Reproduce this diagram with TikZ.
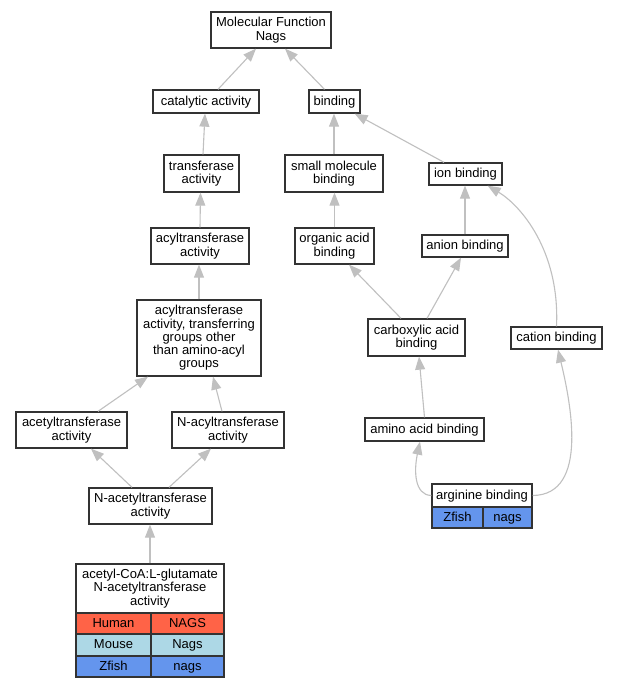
\documentclass[tikz,border=0pt]{standalone}
\usepackage{fontspec}
\setmainfont{Liberation Sans}
\usetikzlibrary{arrows.meta}
\definecolor{edgec}{HTML}{C0C0C0}
\definecolor{boxc}{HTML}{333333}
\definecolor{human}{HTML}{FF6347}
\definecolor{mouse}{HTML}{ADD8E6}
\definecolor{zfish}{HTML}{6495ED}
\newcommand\gvfont{\fontsize{13}{13.3}\selectfont}
\tikzset{
  box/.style={draw=boxc, line width=1.3pt, fill=white, align=center, inner sep=0pt, font=\gvfont, text=black},
  onebox/.style={box, text height=10.3pt, text depth=2.5pt},
  cell/.style={onebox, line width=1.1pt},
  conn/.style={draw=edgec, line width=1.1pt, -{Triangle[length=13pt,width=10pt,fill=edgec]}},
}
\begin{document}
\begin{tikzpicture}[x=1pt,y=-1pt]
\useasboundingbox[fill=white] (0,0) rectangle (617,688);
% nodes
\node[box, minimum width=120pt, minimum height=36pt] (mf) at (271,30) {Molecular Function\\Nags};
\node[onebox, minimum width=106pt, minimum height=23pt] (cat) at (206,101.5) {catalytic activity};
\node[onebox, minimum width=51pt, minimum height=23pt] (bind) at (334.5,101.5) {binding};
\node[box, minimum width=75pt, minimum height=37pt] (trans) at (201.5,173.5) {transferase\\activity};
\node[box, minimum width=98pt, minimum height=37pt] (smb) at (334,173.5) {small molecule\\binding};
\node[onebox, minimum width=73pt, minimum height=22pt] (ion) at (465.5,174) {ion binding};
\node[box, minimum width=98pt, minimum height=36pt] (acyl) at (200,246) {acyltransferase\\activity};
\node[box, minimum width=79pt, minimum height=36pt] (oab) at (334.5,246) {organic acid\\binding};
\node[onebox, minimum width=86pt, minimum height=22pt] (anion) at (465,246) {anion binding};
\node[box, minimum width=124pt, minimum height=76pt] (acyltr) at (199,338) {acyltransferase\\activity, transferring\\groups other\\than amino-acyl\\groups};
\node[box, minimum width=97pt, minimum height=37pt] (carb) at (416.5,337.5) {carboxylic acid\\binding};
\node[onebox, minimum width=91pt, minimum height=22pt] (cation) at (556.5,338) {cation binding};
\node[box, minimum width=111pt, minimum height=36pt] (acet) at (71.5,430) {acetyltransferase\\activity};
\node[box, minimum width=112pt, minimum height=36pt] (nacyl) at (228,430) {N-acyltransferase\\activity};
\node[onebox, minimum width=119pt, minimum height=23pt] (amino) at (424.5,429.5) {amino acid binding};
\node[box, minimum width=123pt, minimum height=36pt] (nacet) at (150.5,506) {N-acetyltransferase\\activity};
% arginine binding table
\node[onebox, minimum width=100pt, minimum height=23pt] (arg) at (482,495.5) {arginine binding};
\node[cell, fill=zfish, minimum width=51pt, minimum height=21pt] (argz1) at (457.5,517.5) {Zfish};
\node[cell, fill=zfish, minimum width=49pt, minimum height=21pt] (argz2) at (507.5,517.5) {nags};
% acetyl-CoA table
\node[box, minimum width=148pt, minimum height=49pt] (acoa) at (150,588.5) {acetyl-CoA:L-glutamate\\N-acetyltransferase\\activity};
\node[cell, fill=human, minimum width=75pt, minimum height=21pt] (h1) at (113.5,623.5) {Human};
\node[cell, fill=human, minimum width=73pt, minimum height=21pt] (h2) at (187.5,623.5) {NAGS};
\node[cell, fill=mouse, minimum width=75pt, minimum height=22pt] (m1) at (113.5,645) {Mouse};
\node[cell, fill=mouse, minimum width=73pt, minimum height=22pt] (m2) at (187.5,645) {Nags};
\node[cell, fill=zfish, minimum width=75pt, minimum height=21pt] (z1) at (113.5,666.5) {Zfish};
\node[cell, fill=zfish, minimum width=73pt, minimum height=21pt] (z2) at (187.5,666.5) {nags};
% edges
\draw[conn] ([xshift=12pt]cat.north) -- ([xshift=-15pt]mf.south);
\draw[conn] ([xshift=-10pt]bind.north) -- ([xshift=14pt]mf.south);
\draw[conn] ([xshift=1.5pt]trans.north) -- ([xshift=-1pt]cat.south);
\draw[conn] (smb.north) -- (smb.north |- bind.south);
\draw[conn] ([xshift=-21.5pt]ion.north) -- ([xshift=-6pt]bind.south east);
\draw[conn] (acyl.north) -- ([xshift=-1pt]trans.south);
\draw[conn] (oab.north) -- (oab.north |- smb.south);
\draw[conn] (anion.north) -- (anion.north |- ion.south);
\draw[conn] (cation.north) .. controls (560,250) and (520,205) .. ([xshift=-15pt]ion.south east);
\draw[conn] (acyltr.north) -- ([xshift=-1pt]acyl.south);
\draw[conn] ([xshift=-15.5pt]carb.north) -- ([xshift=14.5pt]oab.south);
\draw[conn] ([xshift=10.5pt]carb.north) -- ([xshift=-4pt]anion.south);
\draw[conn] (amino.north) -- ([xshift=2.5pt]carb.south);
\draw[conn] (arg.east) .. controls (590,495) and (570,400) .. ([xshift=1.5pt]cation.south);
\draw[conn] (arg.west) .. controls (414,495) and (414,470) .. ([xshift=-4.5pt]amino.south);
\draw[conn] ([xshift=26.5pt]acet.north) -- ([xshift=-51pt]acyltr.south);
\draw[conn] ([xshift=-6pt]nacyl.north) -- ([xshift=14pt]acyltr.south);
\draw[conn] ([xshift=-18.5pt]nacet.north) -- ([xshift=19.5pt]acet.south);
\draw[conn] ([xshift=18.5pt]nacet.north) -- ([xshift=-17pt]nacyl.south);
\draw[conn] (acoa.north) -- (acoa.north |- nacet.south);
\end{tikzpicture}
\end{document}
